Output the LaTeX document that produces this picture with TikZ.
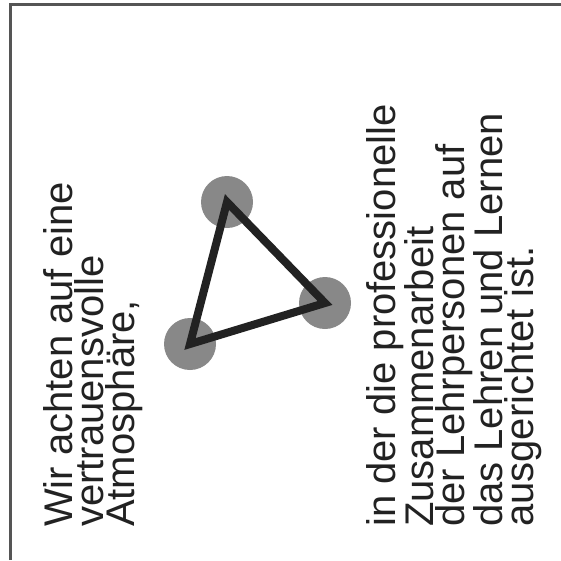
\documentclass[tikz,border=0pt]{standalone}
\usepackage{fontspec}
\setmainfont{Liberation Sans}
\definecolor{inkgray}{HTML}{222222}
\definecolor{dotgray}{HTML}{888888}
\definecolor{framegray}{HTML}{555555}
\tikzset{
  dot/.style={fill=dotgray},
  edge/.style={draw=inkgray,line width=8pt,line join=miter},
  vtext/.style={rotate=90,anchor=north west,inner sep=0pt,align=left,
    text=inkgray,font=\fontsize{40}{31}\selectfont}
}
\begin{document}
\begin{tikzpicture}[x=1pt,y=-1pt]
\useasboundingbox (0,0) rectangle (561,560);
\coordinate (T) at (227,202);
\coordinate (R) at (325,303);
\coordinate (L) at (190,344);

\draw[framegray,line width=2.5pt] (10.5,560) -- (10.5,4.5) -- (561,4.5);

\fill[dot] (T) circle[radius=26pt];
\fill[dot] (R) circle[radius=26pt];
\fill[dot] (L) circle[radius=26pt];

\draw[edge] (T) -- (R) -- (L) -- cycle;

\node[vtext] (left) at (43,527) {Wir achten auf eine\\vertrauensvolle\\Atmosphäre,};
\node[vtext] (right) at (366,527) {in der die professionelle\\Zusammenarbeit\\der Lehrpersonen auf\\das Lehren und Lernen\\ausgerichtet ist.};
\end{tikzpicture}
\end{document}
